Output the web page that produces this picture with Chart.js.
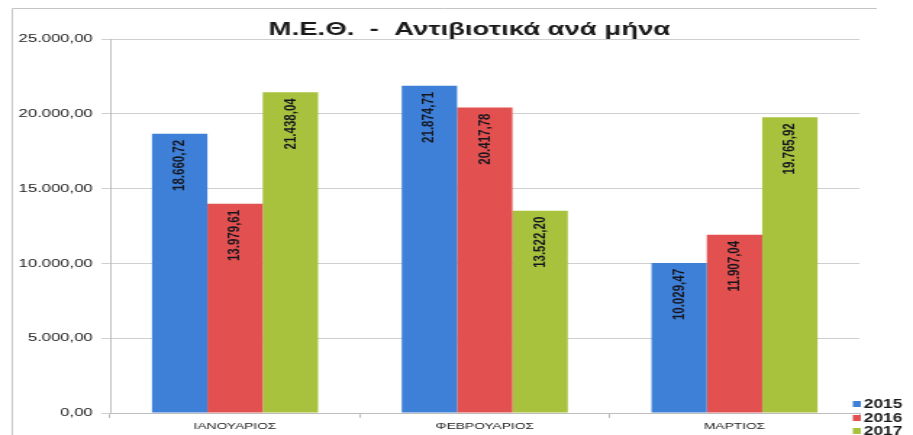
<!DOCTYPE html>
<html>
<head>
<meta charset="utf-8">
<script src="https://cdn.jsdelivr.net/npm/chart.js@4/dist/chart.umd.min.js"></script>
<style>
html,body{margin:0;padding:0;background:#fff;overflow:hidden;}
#c{display:block;width:913px;height:435px;}
</style>
</head>
<body>
<canvas id="c" width="630" height="435" style="width:913px;height:435px;"></canvas>
<script>
const categories = ["ΙΑΝΟΥΑΡΙΟΣ", "ΦΕΒΡΟΥΑΡΙΟΣ", "ΜΑΡΤΙΟΣ"];
const seriesNames = ["2015", "2016", "2017"];
const values2015 = [18660.72, 21874.71, 10029.47];
const values2016 = [13979.61, 20417.78, 11907.04];
const values2017 = [21438.04, 13522.20, 19765.92];
const yTicks = [0, 5000, 10000, 15000, 20000, 25000];
const titleText = "Μ.Ε.Θ.  -  Αντιβιοτικά ανά μήνα    ";
const colors = ["#3e80d8", "#e25050", "#a9c23e"];

function fmt(v) {
  const neg = v < 0;
  v = Math.abs(v);
  let [i, d] = v.toFixed(2).split(".");
  i = i.replace(/\B(?=(\d{3})+(?!\d))/g, ".");
  return (neg ? "-" : "") + i + "," + d;
}

const FONT = "'Liberation Sans', Arial, sans-serif";

const frame = {
  id: "frame",
  beforeDraw(chart) {
    const ctx = chart.ctx;
    ctx.save();
    ctx.strokeStyle = "#c4c4c4";
    ctx.lineWidth = 1;
    ctx.beginPath();
    ctx.moveTo(8.5, 435);
    ctx.lineTo(8.5, 8.5);
    ctx.lineTo(605, 8.5);
    ctx.stroke();
    ctx.restore();
  }
};

const barLabels = {
  id: "barLabels",
  afterDatasetsDraw(chart) {
    const ctx = chart.ctx;
    ctx.save();
    ctx.font = "bold 11.5px " + FONT;
    ctx.fillStyle = "#16161f";
    ctx.textAlign = "right";
    ctx.textBaseline = "middle";
    chart.data.datasets.forEach((ds, di) => {
      const meta = chart.getDatasetMeta(di);
      meta.data.forEach((bar, i) => {
        ctx.save();
        ctx.translate(bar.x, bar.y + 6);
        ctx.rotate(-Math.PI / 2);
        ctx.fillText(fmt(ds.data[i]), 0, 0);
        ctx.restore();
      });
    });
    ctx.restore();
  }
};

const cornerLegend = {
  id: "cornerLegend",
  afterDraw(chart) {
    const ctx = chart.ctx;
    ctx.save();
    ctx.font = "bold 12px " + FONT;
    ctx.textBaseline = "middle";
    ctx.textAlign = "left";
    const rows = [404, 418, 431];
    chart.data.datasets.forEach((ds, di) => {
      const y = rows[di];
      ctx.fillStyle = ds.backgroundColor;
      ctx.fillRect(588.5, y - 3, 5.5, 6);
      ctx.fillStyle = "#1a1a1a";
      ctx.fillText(ds.label, 596, y + 0.5);
    });
    ctx.restore();
  }
};

const allSeries = [values2015, values2016, values2017];

const chart = new Chart(document.getElementById("c"), {
  type: "bar",
  data: {
    labels: categories,
    datasets: seriesNames.map((n, k) => ({
      label: n,
      data: allSeries[k],
      backgroundColor: colors[k],
      borderWidth: 0,
      categoryPercentage: 0.665,
      barPercentage: 1.0
    }))
  },
  options: {
    responsive: false,
    animation: false,
    devicePixelRatio: 1,
    layout: { padding: { top: 10, left: 0, right: 37, bottom: 0 } },
    plugins: {
      title: {
        display: true,
        fullSize: false,
        text: titleText,
        color: "#1a1a1a",
        font: { family: FONT, size: 19, weight: "bold", lineHeight: 1.0 },
        padding: { top: 10, bottom: 0 }
      },
      legend: { display: false },
      tooltip: { enabled: false }
    },
    scales: {
      x: {
        grid: { display: true, drawOnChartArea: false, tickLength: 5, color: "#bdbdbd", offset: true },
        border: { color: "#bdbdbd" },
        ticks: { color: "#1a1a1a", padding: 3, maxRotation: 0, font: { family: FONT, size: 9.5 } },
        afterFit(s) { s.height = 22; }
      },
      y: {
        min: 0,
        max: 25000,
        afterBuildTicks(s) { s.ticks = yTicks.map(v => ({ value: v })); },
        grid: { color: "#cfcfcf", tickLength: 6, drawTicks: true },
        border: { color: "#bdbdbd" },
        ticks: {
          color: "#1a1a1a",
          padding: 6,
          font: { family: FONT, size: 11.5 },
          callback: v => fmt(v)
        },
        afterFit(s) { s.width = 76; }
      }
    }
  },
  plugins: [frame, barLabels, cornerLegend]
});
const cv = document.getElementById("c");
cv.style.width = "913px";
cv.style.height = "435px";
</script>
</body>
</html>
